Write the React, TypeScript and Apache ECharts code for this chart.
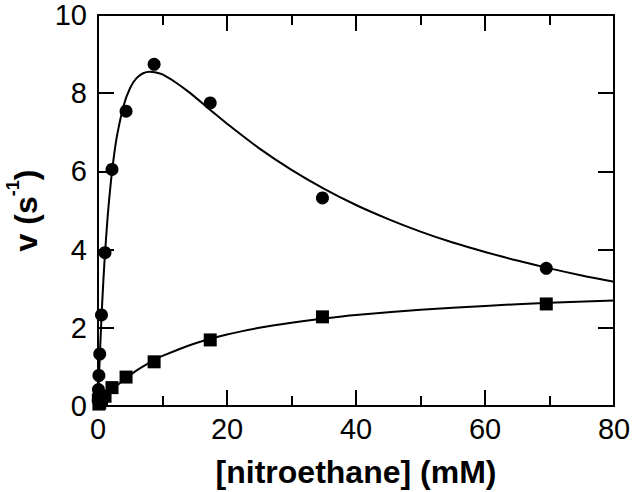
import React, { useEffect, useRef } from "react";
import * as echarts from "echarts";

// Measured data: nitroethane concentration (mM) vs rate v (s^-1)
const circleX = [69.5, 34.8, 17.4, 8.7, 4.35, 2.17, 1.09, 0.54, 0.27, 0.14, 0.07, 0.035, 0.02];
const circleY = [3.52, 5.32, 7.75, 8.74, 7.54, 6.05, 3.92, 2.33, 1.33, 0.78, 0.42, 0.25, 0.14];
const squareX = [69.5, 34.8, 17.4, 8.7, 4.35, 2.17, 1.09, 0.54, 0.27, 0.14];
const squareY = [2.61, 2.28, 1.69, 1.13, 0.74, 0.47, 0.25, 0.14, 0.08, 0.05];

// Fitted curves
const fitCircleX = [0, 0.25, 0.5, 0.75, 1, 1.5, 2, 2.5, 3, 4, 5, 6, 7, 8, 9, 10, 12, 14, 16, 18, 20, 25, 30, 35, 40, 45, 50, 55, 60, 65, 70, 75, 80];
const fitCircleY = [0, 1.14, 2.12, 2.95, 3.68, 4.85, 5.74, 6.43, 6.96, 7.7, 8.14, 8.39, 8.51, 8.55, 8.53, 8.48, 8.28, 8.04, 7.77, 7.49, 7.22, 6.59, 6.04, 5.56, 5.14, 4.78, 4.46, 4.18, 3.94, 3.72, 3.52, 3.34, 3.18];
const fitSquareX = [0, 1, 2, 4, 6, 8, 10, 15, 20, 25, 30, 35, 40, 50, 60, 70, 80];
const fitSquareY = [0, 0.2, 0.38, 0.67, 0.91, 1.11, 1.28, 1.6, 1.83, 2.0, 2.13, 2.24, 2.33, 2.46, 2.56, 2.64, 2.7];

const xTicks = { min: 0, max: 80, interval: 20 };
const yTicks = { min: 0, max: 10, interval: 2 };

const zip = (xs: number[], ys: number[]) => xs.map((x, i) => [x, ys[i]]);

export default function App() {
  const ref = useRef<HTMLDivElement>(null);
  useEffect(() => {
    const chart = echarts.init(ref.current!, undefined, { renderer: "svg" });
    const font = "'Liberation Sans', Arial, Helvetica, sans-serif";
    const axisLine = { show: true, onZero: false, lineStyle: { color: "#000", width: 2 } };
    const tick = { show: true, inside: true, length: 16, lineStyle: { color: "#000", width: 2 } };
    const minor = { show: true, splitNumber: 2, length: 10, lineStyle: { color: "#000", width: 2 } };
    const labelStyle = { color: "#000", fontSize: 29, fontFamily: font };
    chart.setOption({
      animation: false,
      backgroundColor: "#fff",
      grid: { left: 98, right: 19, top: 15, bottom: 86, outerBoundsMode: "none", containLabel: false },
      xAxis: [
        {
          type: "value",
          ...xTicks,
          position: "bottom",
          axisLine,
          axisTick: tick,
          minorTick: minor,
          splitLine: { show: false },
          axisLabel: { ...labelStyle, margin: 8 },
          name: "[nitroethane] (mM)",
          nameLocation: "middle",
          nameGap: 50,
          nameTextStyle: { color: "#000", fontSize: 32, fontWeight: "bold", fontFamily: font },
        },
        {
          type: "value",
          ...xTicks,
          position: "top",
          axisLine,
          axisTick: tick,
          minorTick: minor,
          splitLine: { show: false },
          axisLabel: { show: false },
        },
      ],
      yAxis: [
        {
          type: "value",
          ...yTicks,
          position: "left",
          axisLine,
          axisTick: tick,
          splitLine: { show: false },
          axisLabel: { ...labelStyle, margin: 11 },
          name: "{a|v (s}{b|-1}{a|)}",
          nameLocation: "middle",
          nameGap: 56,
          nameTextStyle: {
            color: "#000",
            fontFamily: font,
            rich: {
              a: { fontSize: 32, fontWeight: "bold", fontFamily: font, color: "#000", lineHeight: 38, verticalAlign: "bottom" },
              b: { fontSize: 18, fontWeight: "bold", fontFamily: font, color: "#000", lineHeight: 38, verticalAlign: "top" },
            },
          },
        },
        {
          type: "value",
          ...yTicks,
          position: "right",
          axisLine,
          axisTick: tick,
          splitLine: { show: false },
          axisLabel: { show: false },
        },
      ],
      series: [
        {
          type: "line",
          data: zip(fitCircleX, fitCircleY),
          smooth: 0.3,
          showSymbol: false,
          lineStyle: { color: "#000", width: 2 },
          silent: true,
        },
        {
          type: "line",
          data: zip(fitSquareX, fitSquareY),
          smooth: 0.3,
          showSymbol: false,
          lineStyle: { color: "#000", width: 2 },
          silent: true,
        },
        {
          type: "scatter",
          data: zip(circleX, circleY),
          symbol: "circle",
          symbolSize: 13,
          itemStyle: { color: "#000", opacity: 1 },
        },
        {
          type: "scatter",
          data: zip(squareX, squareY),
          symbol: "rect",
          symbolSize: 13,
          itemStyle: { color: "#000", opacity: 1 },
        },
      ],
    });
    return () => chart.dispose();
  }, []);
  return <div ref={ref} style={{ width: 633, height: 492, position: "fixed", left: 0, top: 0 }} />;
}
